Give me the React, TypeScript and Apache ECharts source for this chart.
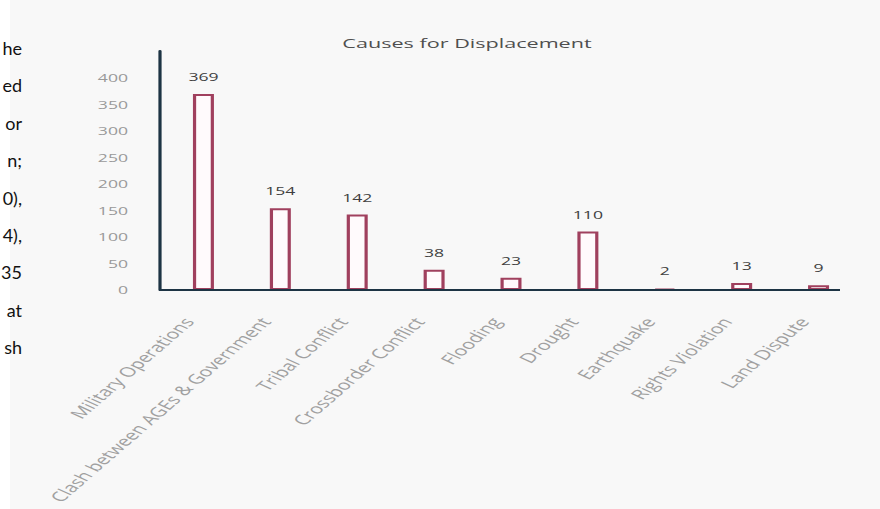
import React, { useEffect, useRef } from "react";
import * as echarts from "echarts";

const title = "Causes for Displacement";
const categories = [
  "Military Operations",
  "Clash between AGEs & Government",
  "Tribal Conflict",
  "Crossborder Conflict",
  "Flooding",
  "Drought",
  "Earthquake",
  "Rights Violation",
  "Land Dispute",
];
const displaced = [369, 154, 142, 38, 23, 110, 2, 13, 9];
const yTicks = [0, 50, 100, 150, 200, 250, 300, 350, 400];
// Line endings of the surrounding paragraph, cut by the chart's left edge
const sideText = ["he", "ed", "or", "n;", "0),", "4),", "35", "at", "sh"];

// The chart is drawn narrow and widened horizontally as a whole
const STRETCH = 1.6;
const PAGE_W = 880;
const PAGE_H = 509;
const INNER_W = PAGE_W / STRETCH;

export default function App() {
  const ref = useRef<HTMLDivElement>(null);

  useEffect(() => {
    if (!ref.current) return;
    const chart = echarts.init(ref.current, null, { renderer: "svg" });
    const lineY0 = 48;
    const lineStep = 37.4;
    const px = (x: number) => x / STRETCH;
    chart.setOption({
      animation: false,
      backgroundColor: "#ffffff",
      title: {
        text: title,
        left: px(459),
        top: 31,
        textAlign: "center",
        textStyle: {
          fontFamily: "Open Sans",
          fontSize: 13.5,
          fontWeight: "normal",
          color: "#4f4f4f",
        },
      },
      grid: { left: px(165), right: INNER_W - px(857), top: 51, bottom: 219 },
      xAxis: {
        type: "category",
        data: categories,
        axisLine: { show: false },
        axisTick: { show: false },
        axisLabel: {
          rotate: 54,
          interval: 0,
          margin: 16,
          padding: [0, 16, 0, 0],
          color: "#a0a0a0",
          fontFamily: "Open Sans",
          fontSize: 13.5,
        },
      },
      yAxis: {
        type: "value",
        min: 0,
        max: 450,
        interval: 50,
        offset: px(5),
        splitLine: { show: false },
        axisTick: { show: false },
        axisLine: { show: true, lineStyle: { color: "#1d3444", width: 2 } },
        axisLabel: {
          margin: px(32),
          color: "#9a9a9a",
          fontFamily: "Open Sans",
          fontSize: 11,
          formatter: (v: number) => (yTicks.includes(v) ? String(v) : ""),
        },
      },
      series: [
        {
          type: "bar",
          data: displaced,
          barWidth: px(21),
          itemStyle: {
            color: "#fffafc",
            borderColor: "#a0405e",
            borderWidth: 2,
          },
          label: {
            show: true,
            position: "top",
            distance: 12,
            color: "#404040",
            fontFamily: "Open Sans",
            fontSize: 11,
          },
        },
      ],
      graphic: [
        {
          type: "rect",
          z: -10,
          silent: true,
          shape: { x: px(10), y: 0, width: INNER_W, height: PAGE_H },
          style: { fill: "#f8f8f8" },
        },
        {
          type: "line",
          z: 10,
          silent: true,
          shape: { x1: px(159), y1: 290, x2: px(840), y2: 290 },
          style: { stroke: "#1d3444", lineWidth: 2 },
        },
        ...sideText.map((t, i) => ({
          type: "text",
          x: px(22),
          y: lineY0 + i * lineStep,
          scaleX: 1 / STRETCH,
          style: {
            text: t,
            align: "right",
            verticalAlign: "middle",
            fill: "#111111",
            fontFamily: "Lato",
            fontSize: 18,
          },
        })),
      ],
    });
    return () => chart.dispose();
  }, []);

  return (
    <div
      style={{
        position: "fixed",
        left: 0,
        top: 0,
        width: PAGE_W,
        height: PAGE_H,
        overflow: "hidden",
        background: "#ffffff",
      }}
    >
      <div
        ref={ref}
        style={{
          width: INNER_W,
          height: PAGE_H,
          transform: `scaleX(${STRETCH})`,
          transformOrigin: "0 0",
        }}
      />
    </div>
  );
}
